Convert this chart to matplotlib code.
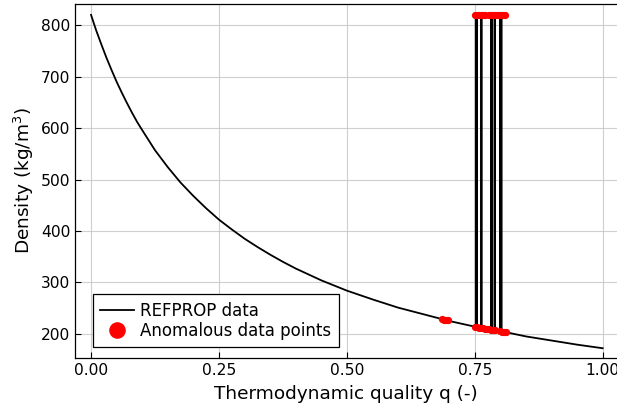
from matplotlib import pyplot as plt
import numpy as np

# REFPROP curve
q_curve = [0.0, 0.01, 0.02, 0.03, 0.04, 0.05, 0.06, 0.07, 0.08, 0.09, 0.1,
           0.125, 0.15, 0.175, 0.2, 0.225, 0.25, 0.275, 0.3, 0.325, 0.35,
           0.375, 0.4, 0.45, 0.5, 0.55, 0.6, 0.65, 0.7, 0.75, 0.8, 0.85,
           0.9, 0.95, 1.0]
rho_curve = [820, 790, 763, 737, 713, 690, 669, 649, 630, 612, 596,
             557, 524, 494, 468, 444, 422, 403, 385, 369, 354,
             340, 327, 304, 284, 267, 251, 238, 225, 214, 204, 195,
             187, 179, 172]

# spikes in the data (jump to liquid density and back)
spike_q = [0.752, 0.754, 0.763, 0.782, 0.784, 0.789, 0.800, 0.802]
spike_base = [213, 213, 211, 208, 207, 207, 205, 205]
spike_top = 820

# anomalous points
anom_q = [0.686, 0.690, 0.694, 0.698, 0.750, 0.754, 0.758, 0.762, 0.766, 0.770,
          0.774, 0.778, 0.782, 0.786, 0.790, 0.800, 0.804, 0.808, 0.811,
          0.750, 0.754, 0.758, 0.762, 0.766, 0.770, 0.778, 0.782, 0.786,
          0.790, 0.794, 0.798, 0.802, 0.806, 0.809]
anom_rho = [228, 227, 227, 226, 214, 213, 212, 212, 211, 210,
            210, 209, 208, 208, 207, 205, 204, 204, 203,
            820, 820, 820, 820, 820, 820, 820, 820, 820,
            820, 820, 820, 820, 820, 820]

# build the line path: curve with spikes inserted
qs, rs = [], []
pts = sorted(zip(q_curve, rho_curve))
spikes = list(zip(spike_q, spike_base))
i = 0
for q, r in pts:
    while i < len(spikes) and spikes[i][0] < q:
        sq, sb = spikes[i]
        qs += [sq, sq, sq]
        rs += [sb, spike_top, sb]
        i += 1
    qs.append(q)
    rs.append(r)

fig = plt.figure(figsize=(6.17, 4.08), dpi=100)
ax = fig.add_axes([0.1216, 0.1225, 0.8784, 0.8675])

ax.plot(qs, rs, color='black', lw=1.3, label='REFPROP data', zorder=3)
ax.plot(anom_q, anom_rho, 'o', color='red', ms=4.2, mec='red',
        label='Anomalous data points', zorder=4)

ax.set_xlim(-0.0313, 1.028)
ax.set_ylim(153, 841)
ax.set_xticks([0, 0.25, 0.5, 0.75, 1.0])
ax.set_xticklabels(['0.00', '0.25', '0.50', '0.75', '1.00'])
ax.set_yticks([200, 300, 400, 500, 600, 700, 800])
ax.grid(True, color='#c4c4c4', lw=0.8, alpha=0.8)
ax.tick_params(direction='in', labelsize=11.2, length=4, width=0.8)
for s in ax.spines.values():
    s.set_linewidth(0.9)
ax.spines['right'].set_visible(False)

ax.set_xlabel('Thermodynamic quality q (-)', fontsize=13.3, labelpad=5)
ax.set_ylabel('Density (kg/m$^3$)', fontsize=13.3, labelpad=3)

leg = ax.legend(loc='lower left', bbox_to_anchor=(0.033, 0.031), fontsize=12,
                markerscale=2.6, fancybox=False, framealpha=1,
                edgecolor='black', borderpad=0.45, handlelength=2.0,
                handletextpad=0.4, labelspacing=0.1, borderaxespad=0)
leg.get_frame().set_linewidth(0.9)

plt.savefig('out.png')
